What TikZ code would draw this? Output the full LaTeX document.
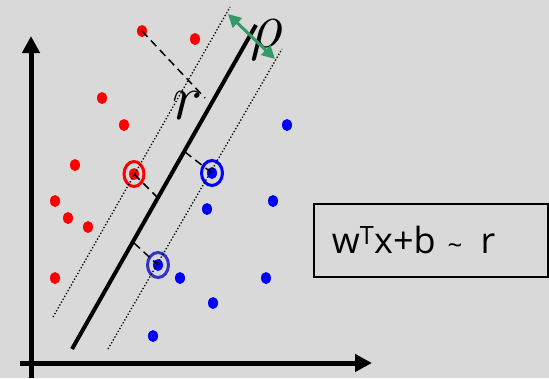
\documentclass[tikz,border=0pt]{standalone}
\usepackage{fontspec}
\newfontfamily\boxfont{Open Sans}
\usetikzlibrary{arrows.meta, positioning, shapes.geometric}
\definecolor{bggray}{RGB}{217,217,217}
\definecolor{rhogreen}{RGB}{51,153,102}
\definecolor{svblue}{RGB}{51,51,204}
\newcommand{\smalltilde}{\raisebox{-0.5pt}{\fontsize{26}{26}\selectfont\textasciitilde}}

\begin{document}
\begin{tikzpicture}[
  x=1pt, y=-1pt,
  dot/.style={ellipse, fill, inner sep=0pt, minimum width=10pt, minimum height=12pt},
  reddot/.style={dot, red},
  bluedot/.style={dot, blue},
  ring/.style={ellipse, draw, line width=3pt, inner sep=0pt, minimum width=20pt, minimum height=25pt},
  axis/.style={line width=5pt, -{Triangle[length=17pt, width=17pt]}},
  margin/.style={line width=1.3pt, dotted},
  gap/.style={line width=1.5pt, dash pattern=on 8pt off 5pt},
  biglabel/.style={font=\Huge, scale=2.6, inner sep=0pt},
]
\fill[bggray] (0,0) rectangle (549,378);
\useasboundingbox (0,0) rectangle (549,378);

% Points
\node[reddot] (r1) at (142,31) {};
\node[reddot] (r2) at (195,39) {};
\node[reddot] (r3) at (102,98) {};
\node[reddot] (r4) at (124,125) {};
\node[reddot] (r5) at (75,165) {};
\node[reddot] (r6) at (55,201) {};
\node[reddot] (r7) at (68,218) {};
\node[reddot] (r8) at (88,227) {};
\node[reddot] (r9) at (55,278) {};
\node[reddot] (r10) at (134,174) {};
\node[bluedot] (b1) at (287,125) {};
\node[bluedot] (b2) at (273,201) {};
\node[bluedot] (b3) at (207,209) {};
\node[bluedot] (b4) at (180,278) {};
\node[bluedot] (b5) at (266,278) {};
\node[bluedot] (b6) at (213,303) {};
\node[bluedot] (b7) at (153,336) {};
\node[bluedot] (b8) at (212,173) {};
\node[bluedot] (b9) at (158,265) {};

% Support vectors
\node[ring, red] (sv1) at (r10) {};
\node[ring, blue, minimum width=21pt] (sv2) at (b8) {};
\node[ring, svblue, minimum width=21pt] (sv3) at (b9) {};

% Axes
\coordinate (ybot) at (31,378);
\coordinate (ytop) at (31,36);
\coordinate (xleft) at (20,363);
\coordinate (xright) at (372,363);
\draw[axis] (ybot) -- (ytop);
\draw[axis] (xleft) -- (xright);

% Hyperplane and margins
\coordinate (h1) at (72,349);
\coordinate (h2) at (256,25);
\coordinate (m1) at (53,317);
\coordinate (m2) at (230,7);
\coordinate (m3) at (108,349);
\coordinate (m4) at (282,49);
\draw[line width=4pt] (h1) -- (h2);
\draw[margin] (m1) -- (m2);
\draw[margin] (m3) -- (m4);

% Distances
\coordinate (f1) at (205,98);
\coordinate (f2) at (158,198);
\coordinate (f3) at (185,152);
\coordinate (f4) at (134,243);
\draw[gap] (r1.center) -- (f1);
\draw[gap] (r10.center) -- (f2);
\draw[gap] (f3) -- (b8.center);
\draw[gap] (f4) -- (b9.center);

% Labels
\node[biglabel] (rlab) at (188,106) {$r$};
\node[biglabel] (rholab) at (267,40) {$\rho$};
\coordinate (p1) at (228,14);
\coordinate (p2) at (275,59);
\draw[rhogreen, line width=3pt, {Triangle[length=13pt, width=13pt]}-{Triangle[length=13pt, width=13pt]}] (p1) -- (p2);

\node[draw, line width=1.5pt, anchor=north west, minimum height=73pt, text width=198pt,
  inner xsep=18pt, align=left, font=\boxfont\fontsize{36}{40}\selectfont] (formula) at (313,203)
  {w\textsuperscript{T}x+b\hspace{12pt}\smalltilde\hspace{18pt}r};
\end{tikzpicture}
\end{document}
